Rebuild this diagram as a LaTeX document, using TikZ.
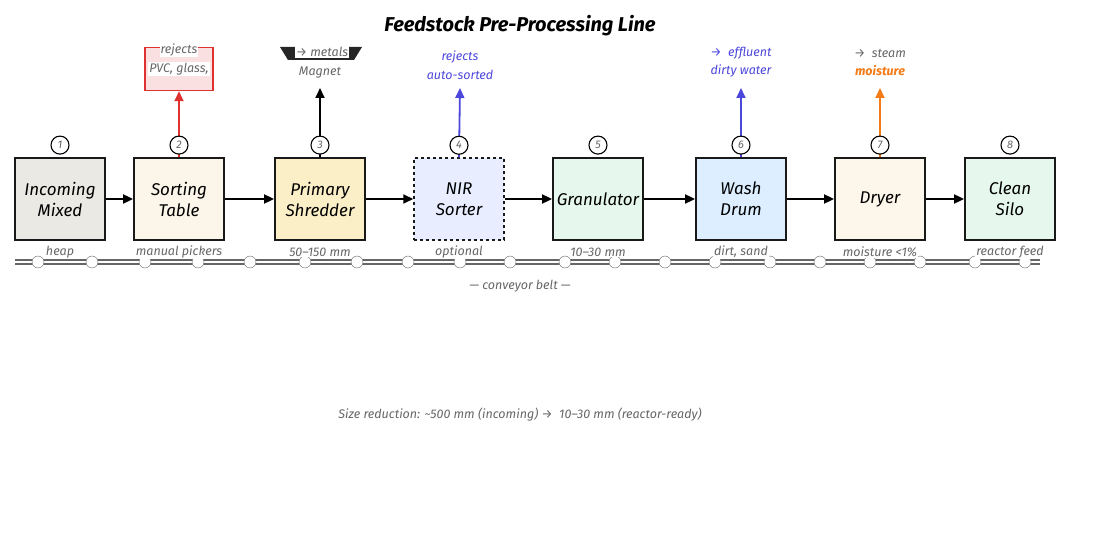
\documentclass[tikz,border=0pt]{standalone}
\usepackage{fontspec}
\setmainfont{Fira Sans}
\usetikzlibrary{arrows.meta}
\definecolor{f1}{HTML}{EBE9E4}\definecolor{f2}{HTML}{FBF5EA}\definecolor{f3}{HTML}{FBEFC8}
\definecolor{f4}{HTML}{E8EEFF}\definecolor{f5}{HTML}{E6F8EE}\definecolor{f6}{HTML}{DCEEFF}
\definecolor{f7}{HTML}{FDF6EA}\definecolor{rd}{HTML}{E03131}\definecolor{bl}{HTML}{4C47DB}
\definecolor{og}{HTML}{F47B16}\definecolor{gr}{HTML}{666666}
\begin{document}
\begin{tikzpicture}[x=1pt,y=-1pt,
 box/.style={draw=black!90,line width=1.8pt,minimum width=90pt,minimum height=82pt,align=center,font=\itshape\fontsize{17}{21}\selectfont},
 num/.style={draw,circle,line width=1.1pt,inner sep=0pt,minimum size=18pt,fill=white,font=\itshape\fontsize{11}{12}\selectfont\color{gr}},
 lab/.style={font=\itshape\fontsize{12.5}{14}\selectfont},
 sub/.style={lab,text=gr,fill=white,inner sep=1pt},
 flow/.style={line width=1.8pt,-{Triangle[length=10pt,width=9pt]}},
 up/.style={line width=1.8pt,-{Triangle[length=10pt,width=9pt]}},
 roller/.style={draw=gr,fill=white,circle,minimum size=12pt,inner sep=0pt}]
\useasboundingbox (0,0) rectangle (1120,540);
\node[font=\bfseries\itshape\fontsize{20}{22}\selectfont] (title) at (520,26) {Feedstock Pre-Processing Line};
% conveyor
\draw[gr,line width=1.2pt] (15,260)--(1040,260);
\draw[gr,line width=1.2pt] (15,264)--(1040,264);
\foreach \x [count=\i] in {38,92,145,198,250,305,357,408,460,510,565,615,665,715,770,820,870,920,975,1025}
  \node[roller] (r\i) at (\x,262) {};
\node[lab,text=gr] (belt) at (520,286) {— conveyor belt —};
% boxes
\node[box,fill=f1] (b1) at (60,199) {Incoming\\Mixed};
\node[box,fill=f2] (b2) at (179,199) {Sorting\\Table};
\node[box,fill=f3] (b3) at (320,199) {Primary\\Shredder};
\node[box,fill=f4,dashed,line width=1.5pt] (b4) at (459,199) {NIR\\Sorter};
\node[box,fill=f5] (b5) at (598,199) {Granulator};
\node[box,fill=f6] (b6) at (741,199) {Wash\\Drum};
\node[box,fill=f7] (b7) at (880,199) {Dryer};
\node[box,fill=f5] (b8) at (1010,199) {Clean\\Silo};
\foreach \a/\b in {b1/b2,b2/b3,b3/b4,b4/b5,b5/b6,b6/b7,b7/b8} \draw[flow] (\a) -- (\b);
% side outputs
\node[draw=rd,fill=rd!15,line width=1.5pt,minimum width=68pt,minimum height=43pt] (rej) at (179,69) {};
\node[sub] (rejt) at (179,50) {rejects};
\node[sub] (rejt2) at (179,69) {PVC, glass,};
\draw[up,rd] (b2.north) -- (rej.south);
\fill[black!85] (280,47)--(362,47)--(354,60)--(288,60)--cycle;
\node[sub] (met) at (322,52) {→ metals};
\node[lab,text=gr] (mag) at (320,73) {Magnet};
\coordinate (c3) at (320,88);
\draw[up] (b3.north) -- (c3);
\node[lab,text=bl] (n4a) at (460,57) {rejects};
\node[lab,text=bl] (n4b) at (460,75) {auto-sorted};
\coordinate (c4) at (460,88);
\draw[up,bl] (b4.north) -- (c4);
\node[lab,text=bl] (n6a) at (741,53) {→\ \ effluent};
\node[lab,text=bl] (n6b) at (741,71) {dirty water};
\coordinate (c6) at (741,88);
\draw[up,bl] (b6.north) -- (c6);
\node[lab,text=gr] (n7a) at (880,53) {→\ \ steam};
\node[lab,font=\bfseries\itshape\fontsize{12.5}{14}\selectfont,text=og] (n7b) at (880,71) {moisture};
\coordinate (c7) at (880,88);
\draw[up,og] (b7.north) -- (c7);
% numbers
\foreach \i in {1,...,8} \node[num] (n\i) at ([yshift=12pt]b\i.north) {\i};
% sub labels
\node[sub] (s1) at (60,252) {heap};
\node[sub] (s2) at (179,252) {manual pickers};
\node[sub] (s3) at (320,252) {50–150 mm};
\node[sub] (s4) at (459,252) {optional};
\node[sub] (s5) at (598,252) {10–30 mm};
\node[sub] (s6) at (741,252) {dirt, sand};
\node[sub] (s7) at (880,252) {moisture <1\%};
\node[sub] (s8) at (1010,252) {reactor feed};
\node[lab,text=gr] (foot) at (520,415) {Size reduction: \textasciitilde500 mm (incoming) →\ \ 10–30 mm (reactor-ready)};
\end{tikzpicture}
\end{document}
